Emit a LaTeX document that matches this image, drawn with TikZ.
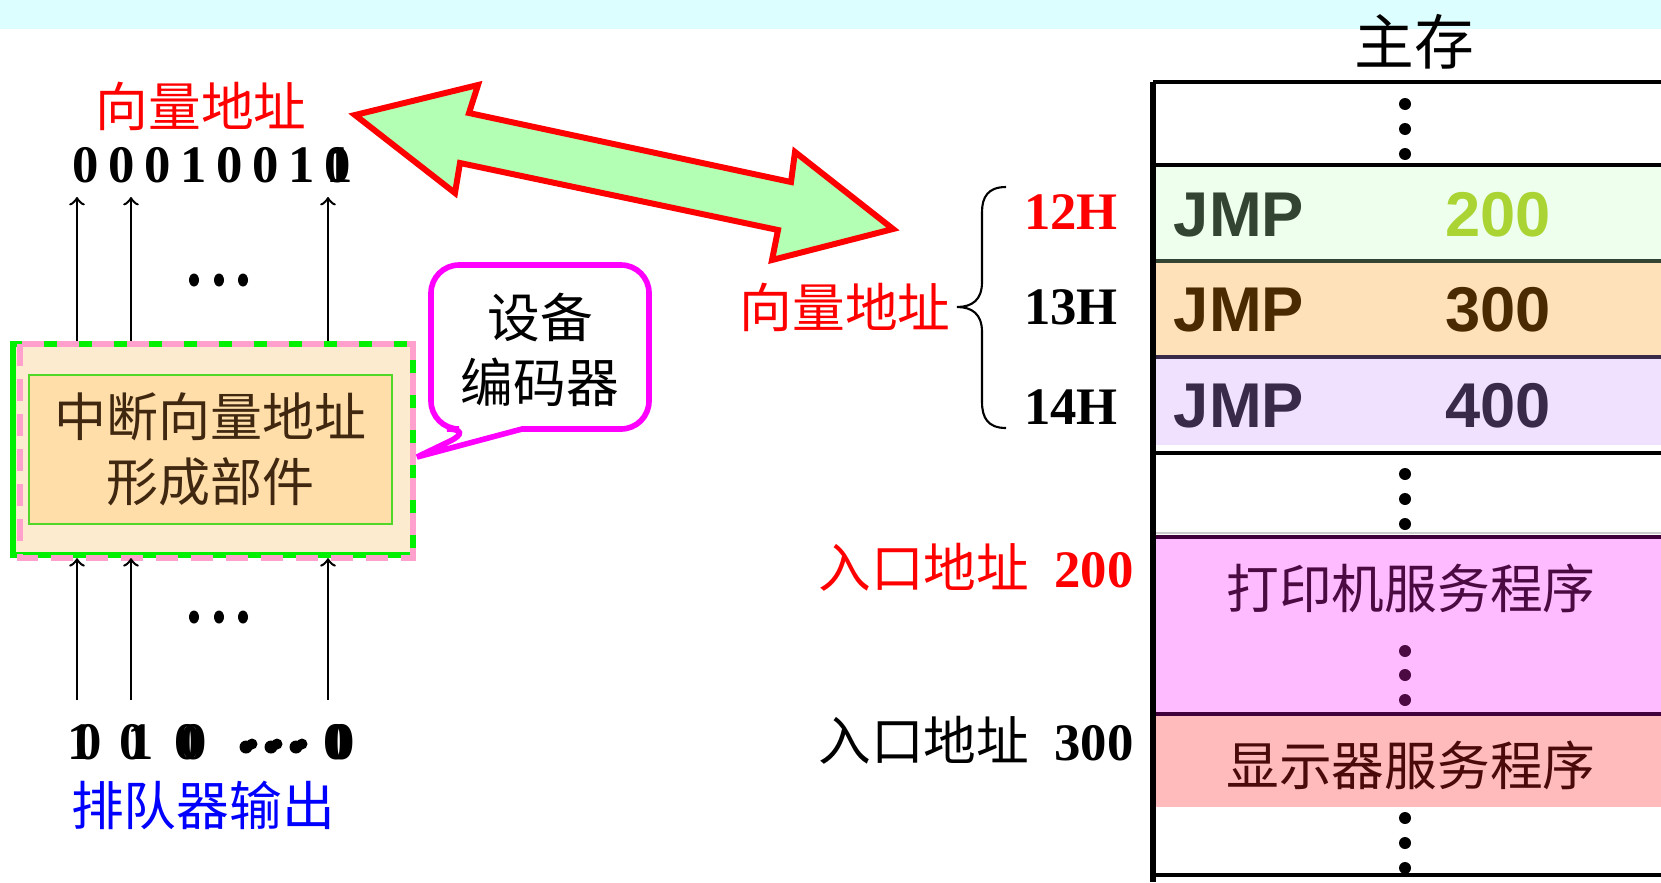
\documentclass[tikz,border=0pt]{standalone}
\usepackage{fontspec}
\setmainfont{Liberation Serif}
\setsansfont{Liberation Sans}
\newfontfamily\cjk{Noto Sans CJK SC}
\usepackage{tikz}
\usetikzlibrary{arrows}

\definecolor{bandcyan}{RGB}{220,254,254}
\definecolor{arrowgreen}{RGB}{179,255,179}
\definecolor{boxgreen}{RGB}{0,240,0}
\definecolor{boxpink}{RGB}{255,160,205}
\definecolor{boxpeach}{RGB}{253,235,208}
\definecolor{innerpeach}{RGB}{255,222,170}
\definecolor{innergreen}{RGB}{80,215,40}
\definecolor{boxtext}{RGB}{64,40,16}
\definecolor{bubblemag}{RGB}{255,0,255}
\definecolor{rowgreen}{RGB}{238,255,238}
\definecolor{rowpeach}{RGB}{255,225,185}
\definecolor{rowlav}{RGB}{240,225,255}
\definecolor{rowpink}{RGB}{255,187,255}
\definecolor{rowsalmon}{RGB}{255,187,187}
\definecolor{jmpgreen}{RGB}{51,68,51}
\definecolor{jmplime}{RGB}{170,212,51}
\definecolor{jmpbrown}{RGB}{74,42,0}
\definecolor{jmpviolet}{RGB}{58,42,74}
\definecolor{printtext}{RGB}{75,10,65}
\definecolor{displaytext}{RGB}{75,10,10}
\definecolor{darkplum}{RGB}{64,0,60}

\tikzset{
  hz/.style={font=\cjk\fontsize{15}{18.5}\selectfont, inner sep=0pt},
  bitdigit/.style={font=\bfseries\fontsize{15}{15}\selectfont, inner sep=0pt},
  jmptext/.style={font=\sffamily\bfseries\fontsize{18}{18}\selectfont, inner sep=0pt},
  memline/.style={line width=1.4pt},
}

\begin{document}
\begin{tikzpicture}
  \useasboundingbox (0,0) rectangle (16.61,8.82);
  \fill[bandcyan] (0,8.53) rectangle (16.61,8.82);

  % vector address former
  \node[hz, text=red] (vecaddr) at (2.01,7.76) {向量地址};
  \foreach \b [count=\i] in {0,0,0,1,0,0,1,0}
    \node[bitdigit] (vbit\i) at ({0.50+0.36*\i},7.17) {\b};
  \node[bitdigit] (vbitghost) at (3.40,7.17) {1};

  \node[draw=boxgreen, line width=1.8pt, fill=boxpeach, minimum width=4cm, minimum height=2.11cm] (outerbox) at (2.13,4.325) {};
  \draw[boxpink, line width=1.6pt, dash pattern=on 0.22cm off 0.13cm] (0.20,5.38) rectangle (4.13,3.24);
  \node[hz, draw=innergreen, line width=0.5pt, fill=innerpeach, text=boxtext, align=center, minimum width=3.63cm, minimum height=1.49cm, font=\cjk\fontsize{14.8}{18.5}\selectfont] (former) at (2.105,4.325) {中断向量地址\\形成部件};

  \foreach \x [count=\i] in {0.77,1.31,3.28} {
    \coordinate (tip\i) at (\x,6.85);
    \coordinate (src\i) at (\x,1.82);
    \draw[->, line width=0.7pt] (tip\i |- outerbox.north) -- (tip\i);
    \draw[->, line width=0.7pt] (src\i) -- (src\i |- outerbox.south);
  }
  \foreach \x in {1.94,2.19,2.43} {
    \fill (\x,6.02) ellipse[x radius=0.05, y radius=0.065];
    \fill (\x,2.65) ellipse[x radius=0.05, y radius=0.065];
  }

  \foreach \x/\b [count=\i] in {0.81/1,0.89/0,1.33/0,1.41/1,1.88/0,1.94/0,3.37/0,3.42/0}
    \node[bitdigit] (qbit\i) at (\x,1.40) {\b};
  \foreach \x in {2.46,2.71,2.96} {
    \fill (\x,1.35) circle[radius=0.065];
    \fill (\x+0.06,1.38) circle[radius=0.055];
  }
  \node[hz, text=blue] (queueout) at (2.03,0.77) {排队器输出};

  % callout
  \draw[bubblemag, line width=1.6pt, fill=white] (5.40,6.17) [rounded corners=0.28cm] -- (4.31,6.17) -- (4.31,4.53) -- (4.75,4.53) [sharp corners] -- (4.17,4.25) -- (5.22,4.53) [rounded corners=0.28cm] -- (6.49,4.53) -- (6.49,6.17) -- cycle;
  \node[hz, align=center] (encoder) at (5.40,5.32) {设备\\编码器};

  % big double arrow
  \draw[red, line width=1.7pt, fill=arrowgreen, line join=miter] (3.55,7.67) -- (4.78,7.97) -- (4.69,7.69) -- (7.91,7.00) -- (7.95,7.30) -- (8.93,6.53) -- (7.72,6.22) -- (7.78,6.52) -- (4.60,7.19) -- (4.55,6.89) -- cycle;

  % main memory
  \node[hz, font=\cjk\fontsize{17}{17}\selectfont] (mainmem) at (14.14,8.40) {主存};
  \fill[rowgreen] (11.53,7.17) rectangle (16.61,6.21);
  \fill[rowpeach] (11.53,6.21) rectangle (16.61,5.25);
  \fill[rowlav] (11.53,5.25) rectangle (16.61,4.37);
  \fill[rowpink] (11.53,3.45) rectangle (16.61,1.68);
  \fill[rowsalmon] (11.53,1.68) rectangle (16.61,0.75);
  \draw[memline] (11.53,8.00) -- (16.61,8.00);
  \draw[memline] (11.53,7.17) -- (16.61,7.17);
  \draw[memline, jmpgreen] (11.53,6.21) -- (16.61,6.21);
  \draw[memline, jmpviolet] (11.53,5.25) -- (16.61,5.25);
  \draw[memline] (11.53,4.29) -- (16.61,4.29);
  \draw[gray!40, line width=0.6pt] (11.53,3.49) -- (16.61,3.49);
  \draw[memline, darkplum] (11.53,3.45) -- (16.61,3.45);
  \draw[memline, darkplum] (11.53,1.68) -- (16.61,1.68);
  \draw[memline] (11.53,0.07) -- (16.61,0.07);
  \draw[line width=1.6pt] (11.53,8.00) -- (11.53,0);
  \foreach \y in {7.78,7.53,7.28,4.08,3.83,3.58,0.64,0.39,0.14}
    \fill (14.05,\y) circle[radius=0.06];
  \foreach \y in {2.31,2.07,1.82}
    \fill[printtext] (14.05,\y) circle[radius=0.06];

  \node[jmptext, text=jmpgreen] (jmpa) at (12.39,6.67) {JMP};
  \node[jmptext, text=jmplime] (dsta) at (14.98,6.67) {200};
  \node[jmptext, text=jmpbrown] (jmpb) at (12.39,5.72) {JMP};
  \node[jmptext, text=jmpbrown] (dstb) at (14.98,5.72) {300};
  \node[jmptext, text=jmpviolet] (jmpc) at (12.39,4.76) {JMP};
  \node[jmptext, text=jmpviolet] (dstc) at (14.98,4.76) {400};
  \node[hz, text=printtext] (printer) at (14.11,2.94) {打印机服务程序};
  \node[hz, text=displaytext] (display) at (14.11,1.17) {显示器服务程序};

  % vector table labels
  \draw[line width=0.6pt] (10.06,6.95) .. controls (9.88,6.95) and (9.82,6.85) .. (9.82,6.70) -- (9.82,6.00) .. controls (9.82,5.82) and (9.72,5.75) .. (9.57,5.75) .. controls (9.72,5.75) and (9.82,5.68) .. (9.82,5.50) -- (9.82,4.80) .. controls (9.82,4.64) and (9.88,4.54) .. (10.06,4.54);
  \node[hz, text=red] (vecright) at (8.45,5.75) {向量地址};
  \node[bitdigit, text=red] (addr12) at (10.71,6.70) {12H};
  \node[bitdigit] (addr13) at (10.71,5.75) {13H};
  \node[bitdigit] (addr14) at (10.71,4.75) {14H};
  \node[font=\fontsize{15}{18}\selectfont, inner sep=0pt, text=red] (entry200) at (9.76,3.15) {{\cjk 入口地址}\hspace{0.25cm}\textbf{200}};
  \node[font=\fontsize{15}{18}\selectfont, inner sep=0pt] (entry300) at (9.76,1.42) {{\cjk 入口地址}\hspace{0.25cm}\textbf{300}};
\end{tikzpicture}
\end{document}
